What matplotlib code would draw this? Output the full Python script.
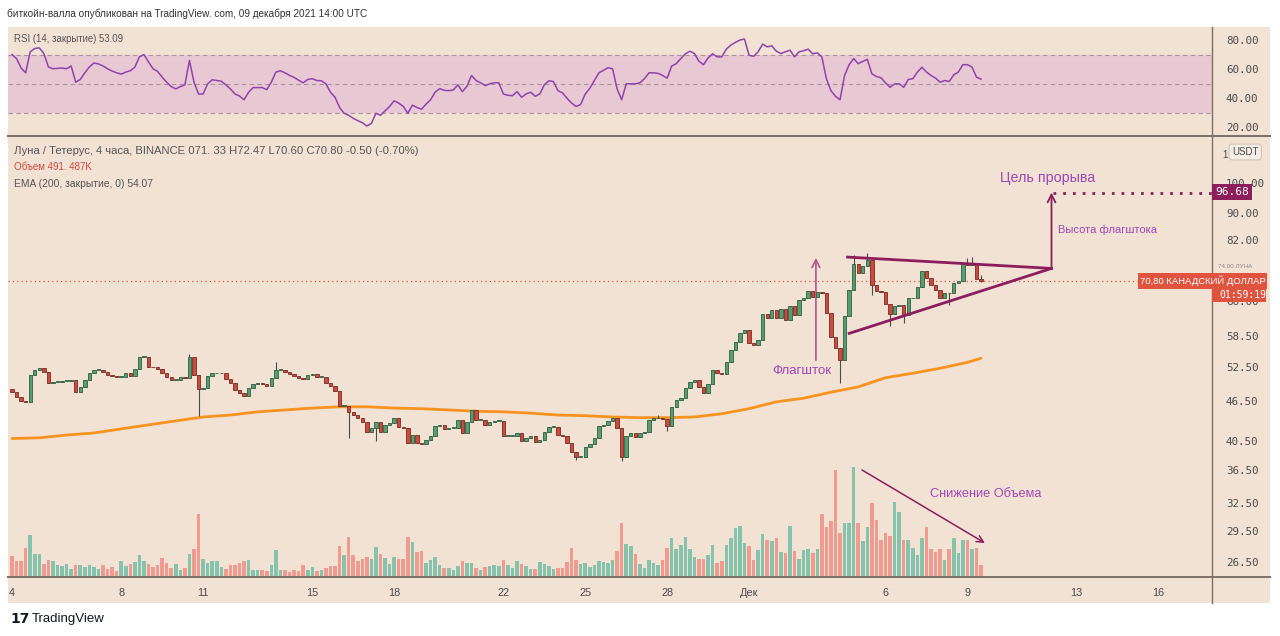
import matplotlib
matplotlib.use("Agg")
import matplotlib.pyplot as plt
from matplotlib.patches import Rectangle
from matplotlib.lines import Line2D
from matplotlib.ticker import FixedLocator, NullLocator, FuncFormatter
import numpy as np

plt.rcParams['font.family'] = ['Liberation Sans', 'DejaVu Sans']

# ---- data (4h candles from 4 Nov, 6 per day) ----
first_open = 48.5
closes = [
    48.0, 47.2, 46.5, 46.4, 51.0, 51.9,   # Nov 4
    52.2, 51.5, 49.6, 49.8, 49.8, 50.0,
    50.0, 50.1, 48.0, 48.9, 50.1, 51.3,
    51.9, 51.9, 51.5, 51.0, 50.8, 50.6,
    50.6, 51.3, 50.8, 52.0, 54.3, 54.3,   # Nov 8
    52.5, 52.4, 52.0, 51.3, 50.6, 50.1,
    50.1, 50.6, 50.5, 54.3, 51.0, 48.5,
    48.7, 50.8, 51.3, 51.3, 51.3, 50.3,   # Nov 11
    49.6, 48.4, 47.8, 47.4, 48.7, 49.4,
    49.6, 49.4, 49.1, 50.5, 51.9, 51.9,
    51.5, 51.1, 50.8, 50.5, 50.3, 51.0,
    51.1, 50.6, 50.6, 49.6, 49.1, 48.2,   # Nov 15
    45.7, 45.7, 44.8, 44.3, 43.8, 43.3,
    41.8, 42.3, 43.3, 41.8, 42.8, 43.1,
    43.8, 42.5, 42.3, 40.2, 41.3, 40.2,   # Nov 18
    40.0, 40.6, 41.2, 42.6, 42.8, 42.2,
    42.3, 42.3, 43.5, 41.6, 43.2, 45.1,
    43.5, 43.5, 42.8, 43.2, 43.4, 43.4,
    41.2, 41.2, 41.2, 41.6, 40.5, 40.9,   # Nov 22
    41.2, 40.3, 40.6, 41.7, 42.5, 42.5,
    41.3, 41.2, 40.2, 38.9, 38.2, 38.2,
    39.6, 40.0, 40.9, 42.6, 42.8, 43.4,   # Nov 25
    43.8, 42.3, 38.2, 41.2, 41.6, 41.0,
    41.6, 41.7, 43.5, 43.8, 43.8, 43.7,
    42.6, 45.6, 46.7, 47.0, 48.7, 49.8,   # Nov 28
    50.1, 48.9, 47.9, 49.4, 51.9, 51.3,
    51.2, 53.4, 55.7, 57.3, 59.0, 59.6,
    57.1, 56.7, 57.7, 63.2, 62.2, 64.1,   # Dec 1
    62.2, 64.2, 61.8, 65.0, 62.9, 66.3,
    66.7, 68.4, 67.1, 68.1, 68.0, 63.3,
    58.2, 56.0, 53.8, 62.6, 68.8, 75.3,   # Dec 4
    72.9, 74.6, 76.3, 69.9, 68.5, 68.3,
    65.4, 63.2, 64.9, 65.1, 62.9, 66.7,   # Dec 6
    66.9, 69.5, 73.5, 71.6, 69.9, 68.7,
    66.9, 68.0, 67.9, 70.4, 70.8, 75.3,
    75.0, 75.4, 71.33, 70.80,             # Dec 9
]
highs = {39: 54.8, 58: 53.4, 142: 44.3, 185: 77.6, 188: 78.3, 210: 76.8, 211: 77.2, 213: 72.47}
lows = {41: 44.1, 74: 40.9, 80: 40.5, 124: 37.9, 134: 37.7, 144: 41.9, 182: 49.6,
        189: 67.5, 193: 60.6, 196: 61.2, 206: 65.2, 213: 70.60}

volumes = [  # thousands
    825, 640, 640, 1170, 1700, 930,
    905, 530, 665, 640, 490, 425,
    530, 330, 490, 465, 400, 465,
    400, 330, 465, 330, 400, 225,
    625, 425, 530, 600, 890, 640,
    530, 400, 490, 760, 560, 360,
    505, 265, 370, 930, 1105, 2530,
    730, 560, 625, 625, 400, 330,
    465, 465, 560, 625, 665, 295,
    265, 265, 225, 490, 1065, 295,
    295, 200, 265, 240, 490, 265,
    400, 225, 265, 360, 425, 425,
    1250, 865, 1600, 865, 625, 705,
    800, 730, 1200, 930, 770, 530,
    800, 730, 730, 1620, 1400, 1000,
    1025, 560, 690, 800, 465, 370,
    370, 265, 425, 640, 560, 560,
    360, 265, 400, 425, 490, 425,
    690, 465, 370, 640, 505, 425,
    330, 305, 600, 505, 425, 330,
    360, 370, 600, 1170, 690, 505,
    560, 400, 465, 640, 585, 570,
    690, 1040, 2155, 1305, 1225, 905,
    530, 360, 665, 560, 465, 665,
    1155, 1570, 1130, 1265, 1620, 1105,
    800, 705, 705, 865, 1290, 570,
    625, 1265, 1570, 1970, 2060, 1370,
    1225, 665, 1090, 1730, 1465, 1435,
    1570, 1000, 960, 2035, 1025, 705,
    1090, 1130, 960, 1105, 2530, 2000,
    2235, 4300, 1755, 2155, 2170, 4415,
    2155, 1435, 2020, 2965, 2300, 1490,
    1770, 1635, 2990, 2595, 1490, 1465,
    1170, 890, 1570, 2000, 1130, 1000,
    1130, 665, 1130, 1570, 960, 1465,
    1490, 1105, 1170, 491.5,
]

rsi = [
    70.0, 67.2, 60.7, 57.4, 71.9, 74.2,
    74.6, 70.7, 61.4, 60.2, 60.5, 60.7,
    60.2, 62.1, 50.9, 52.8, 57.4, 61.4,
    64.2, 63.5, 62.1, 60.2, 58.6, 57.4,
    56.5, 57.9, 58.8, 61.4, 68.4, 70.0,
    64.9, 60.2, 58.4, 54.4, 50.9, 47.9,
    46.3, 47.9, 49.1, 66.0, 50.9, 42.8,
    42.8, 49.8, 52.6, 52.1, 51.6, 49.1,
    46.3, 42.8, 41.4, 38.8, 44.0, 47.2,
    47.2, 47.2, 45.8, 50.9, 57.9, 58.8,
    57.4, 55.6, 54.2, 52.3, 50.5, 52.8,
    53.3, 52.1, 51.9, 49.8, 44.0, 40.5,
    33.5, 29.5, 28.1, 26.0, 24.4, 23.0,
    20.7, 22.5, 29.5, 28.1, 31.2, 34.2,
    38.1, 36.5, 34.2, 29.5, 35.1, 33.5,
    32.3, 35.8, 38.8, 44.0, 46.5, 45.3,
    45.1, 45.6, 49.1, 44.4, 48.1, 55.6,
    52.1, 50.5, 48.6, 49.8, 50.5, 50.5,
    42.8, 41.9, 41.6, 44.4, 40.5, 42.8,
    44.0, 41.2, 42.8, 49.1, 51.9, 51.4,
    45.1, 43.5, 39.8, 36.5, 34.2, 35.6,
    42.8, 46.7, 52.1, 57.4, 59.1, 60.9,
    60.2, 46.3, 38.8, 49.8, 49.8, 49.8,
    50.5, 53.3, 57.4, 57.4, 57.0, 55.6,
    53.7, 62.1, 63.7, 67.2, 70.5, 72.3,
    70.7, 65.3, 63.0, 67.7, 70.5, 68.4,
    68.4, 73.7, 76.5, 78.4, 80.0, 80.7,
    69.5, 68.8, 71.9, 77.2, 75.3, 76.0,
    72.3, 70.7, 71.9, 73.0, 68.4, 71.9,
    72.6, 73.7, 70.5, 71.2, 68.4, 53.3,
    45.1, 41.2, 38.8, 55.6, 63.0, 67.2,
    63.7, 65.3, 66.7, 56.7, 54.9, 54.0,
    50.5, 47.4, 49.8, 49.8, 47.4, 52.8,
    53.3, 57.9, 61.2, 57.9, 55.6, 53.7,
    50.9, 52.1, 51.4, 56.0, 57.9, 63.0,
    63.0, 61.4, 54.4, 53.09,
]

ema_days = list(range(36)) + [35.5]
ema = [40.8, 40.9, 41.3, 41.6, 42.2, 42.8, 43.4, 44.0, 44.3, 44.8,
       45.1, 45.4, 45.6, 45.6, 45.4, 45.3, 45.1, 44.9, 44.8, 44.6,
       44.3, 44.2, 44.0, 43.9, 43.9, 44.0, 44.5, 45.3, 46.4, 47.0,
       48.0, 48.9, 50.5, 51.3, 52.2, 53.3, 54.07]

day_ticks = [0, 4, 7, 11, 14, 18, 21, 24, 27, 32, 35, 39, 42]
day_labels = ['4', '8', '11', '15', '18', '22', '25', '28', 'Дек', '6', '9', '13', '16']
price_ticks = [26.5, 29.5, 32.5, 36.5, 40.5, 46.5, 52.5, 58.5, 66.0, 82.0, 90.0, 100.0]
rsi_ticks = [20, 40, 60, 80]
last_price = 70.80
target = 96.68

# ---- colours ----
BG = '#F2E2D4'
BAND = '#E8C8D3'
UP, UP_EDGE = '#559E72', '#2E5E40'
DN, DN_EDGE = '#CB4A3E', '#7A2A22'
VUP, VDN = '#86C3AD', '#F19A8F'
PURPLE = '#A046B5'
MAROON = '#8B1E5B'
TXT = '#4A4A4A'

W, H = 1280, 636
def fx(x):
    return x / W
def fy(y):
    return 1 - y / H

fig = plt.figure(figsize=(12.8, 6.36), dpi=100, facecolor='white')
fig.patches.append(Rectangle((fx(8), fy(603)), (1270 - 8) / W, (603 - 27) / H,
                             transform=fig.transFigure, facecolor=BG, edgecolor='none', zorder=-5))

xlim = (-0.147, 43.96)
n = len(closes)
xs = np.arange(n) / 6.0
opens = [first_open] + closes[:-1]

# ---- RSI pane ----
ax_rsi = fig.add_axes([fx(8), fy(135), 1204 / W, 108 / H])
ax_rsi.set_zorder(1)
ax_rsi.set_facecolor('none')
ax_rsi.set_xlim(*xlim)
ax_rsi.set_ylim(14.5, 89)
ax_rsi.axhspan(30, 70, color=BAND, zorder=0, lw=0)
for lev in (70, 50, 30):
    ax_rsi.axhline(lev, color='#A8949A', lw=0.8, ls=(0, (4, 3)), zorder=1)
ax_rsi.plot(xs, rsi, color='#8E44AD', lw=1.1, zorder=3)
for s in ax_rsi.spines.values():
    s.set_visible(False)
ax_rsi.set_xticks([])
ax_rsi.yaxis.tick_right()
ax_rsi.yaxis.set_major_locator(FixedLocator(rsi_ticks))
ax_rsi.yaxis.set_major_formatter(FuncFormatter(lambda v, p: '%.2f' % v))
ax_rsi.tick_params(axis='y', length=0, pad=10, labelsize=7.8, labelcolor=TXT)
for lb in ax_rsi.get_yticklabels():
    lb.set_fontfamily('DejaVu Sans Mono')

# ---- volume pane (under the price pane) ----
ax_vol = fig.add_axes([fx(8), fy(577), 1204 / W, 440 / H])
ax_vol.set_zorder(1)
ax_vol.set_facecolor('none')
vcol = [VUP if c >= o else VDN for o, c in zip(opens, closes)]
ax_vol.bar(xs, volumes, width=0.13, color=vcol, lw=0)
ax_vol.set_ylim(0, 17600)
ax_vol.set_xlim(*xlim)
ax_vol.axis('off')

# ---- price pane ----
ax = fig.add_axes([fx(8), fy(577), 1204 / W, 440 / H])
ax.set_facecolor('none')
ax.set_zorder(2)
ax.set_yscale('log')
ax.set_xlim(*xlim)
ax.set_ylim(25.1, 117.5)

ax.plot(ema_days, ema, color='#F7931E', lw=2, zorder=2, solid_capstyle='round')

for i in range(n):
    o, c = opens[i], closes[i]
    hi = highs.get(i, max(o, c))
    lo = lows.get(i, min(o, c))
    if hi > lo:
        ax.vlines(xs[i], lo, hi, color='#4A4A4A', lw=0.8, zorder=3)
    bot = min(o, c)
    hgt = max(abs(c - o), 0.12)
    up = c >= o
    ax.bar(xs[i], hgt, bottom=bot, width=0.125,
           color=UP if up else DN, edgecolor=UP_EDGE if up else DN_EDGE, lw=0.6, zorder=4)

ax.axhline(last_price, color='#E0533F', lw=0.9, ls=(0, (1, 2.5)), zorder=1)

# pennant and target
apex = (38.08, 74.1)
ax.plot([30.61, apex[0]], [77.1, apex[1]], color=MAROON, lw=2, zorder=5)
ax.plot([30.67, apex[0]], [59.0, apex[1]], color=MAROON, lw=2, zorder=5)
ax.annotate('', xy=(apex[0], target), xytext=apex,
            arrowprops=dict(arrowstyle='->', color=MAROON, lw=1.3, mutation_scale=14, shrinkA=0, shrinkB=0))
ax.plot([apex[0] + 0.05, xlim[1]], [target, target], color=MAROON, lw=2, ls=(0, (1, 2.5)), zorder=5)
ax.annotate('', xy=(29.45, 76.9), xytext=(29.45, 53.7),
            arrowprops=dict(arrowstyle='->', color='#B0578F', lw=1.2, mutation_scale=14, shrinkA=0, shrinkB=0))
ax.text(28.94, 51.7, 'Флагшток', color=PURPLE, fontsize=9.5, ha='center', va='center')
ax.text(38.32, 84.8, 'Высота флагштока', color=PURPLE, fontsize=8, ha='left', va='center')
ax.text(36.19, 101.8, 'Цель прорыва', color=PURPLE, fontsize=10.3, ha='left', va='center')

ax_vol.annotate('', xy=(35.64, 1360), xytext=(31.14, 4280),
                arrowprops=dict(arrowstyle='->', color=MAROON, lw=1.1, mutation_scale=12, shrinkA=0, shrinkB=0))
ax_vol.text(33.63, 3320, 'Снижение Объема', color=PURPLE, fontsize=9.2, ha='left', va='center')

for k, s in ax.spines.items():
    s.set_visible(False)
ax.yaxis.tick_right()
ax.yaxis.set_major_locator(FixedLocator(price_ticks))
ax.yaxis.set_minor_locator(NullLocator())
ax.yaxis.set_major_formatter(FuncFormatter(lambda v, p: '%.2f' % v))
ax.tick_params(axis='y', which='both', length=0, pad=10, labelsize=7.8, labelcolor=TXT)
for lb in ax.get_yticklabels():
    lb.set_fontfamily('DejaVu Sans Mono')
ax.set_xticks(day_ticks)
ax.set_xticklabels(day_labels)
ax.tick_params(axis='x', length=0, pad=8, labelsize=7.8, labelcolor=TXT)

# ---- frame lines ----
for (x0, y0, x1, y1, lw) in [(8, 136, 1270, 136, 1.4), (8, 577, 1270, 577, 1.4), (1212, 27, 1212, 603, 1.0)]:
    fig.add_artist(Line2D([fx(x0), fx(x1)], [fy(y0), fy(y1)], color='#7A7068', lw=lw, zorder=6))

# ---- price scale labels ----
fig.patches.append(Rectangle((fx(1212), fy(200)), 40 / W, 16 / H, transform=fig.transFigure,
                             facecolor=MAROON, edgecolor='none', zorder=7))
fig.text(fx(1215), fy(192), '%.2f' % target, color='white', fontsize=8, family='DejaVu Sans Mono',
         va='center', ha='left', zorder=8)
fig.patches.append(Rectangle((fx(1138), fy(289)), 129 / W, 16 / H, transform=fig.transFigure,
                             facecolor='#E0533F', edgecolor='none', zorder=7))
fig.patches.append(Rectangle((fx(1212), fy(302)), 54 / W, 14 / H, transform=fig.transFigure,
                             facecolor='#E0533F', edgecolor='none', zorder=7))
fig.text(fx(1140), fy(281), '70,80 КАНАДСКИЙ ДОЛЛАР', color='white', fontsize=6.8,
         family=['Liberation Sans Narrow', 'Liberation Sans'], va='center', ha='left', zorder=8)
fig.text(fx(1219), fy(295.5), '01:59:19', color='white', fontsize=7, family='DejaVu Sans Mono',
         va='center', ha='left', zorder=8)
fig.text(fx(1218), fy(267), '74.00 ЛУНА', color='#8A8A8A', fontsize=4.5, va='center', ha='left', zorder=8)
fig.text(fx(1222), fy(155), '1', color=TXT, fontsize=7, va='center', ha='left')
fig.text(fx(1232), fy(152), 'USDT', color=TXT, fontsize=7, va='center', ha='left',
         bbox=dict(boxstyle='round,pad=0.3', fc='#F6EEE6', ec='#CDBFB3', lw=0.7))

# ---- legends / headers ----
fig.text(fx(7), fy(14), 'биткойн-валла опубликован на TradingView. com, 09 декабря 2021 14:00 UTC',
         color='#333333', fontsize=7.2, va='center', ha='left')
fig.text(fx(14), fy(39), 'RSI (14, закрытие) 53.09', color='#555555', fontsize=6.9, va='center', ha='left',
         zorder=9)
fig.text(fx(14), fy(151), 'Луна / Тетерус, 4 часа, BINANCE 071. 33 H72.47 L70.60 C70.80 -0.50 (-0.70%)',
         color='#555555', fontsize=8.1, va='center', ha='left')
fig.text(fx(14), fy(167), 'Объем 491. 487K', color='#D9453B', fontsize=7, va='center', ha='left')
fig.text(fx(14), fy(184), 'EMA (200, закрытие, 0) 54.07', color='#555555', fontsize=7.4, va='center', ha='left')

# ---- footer ----
fig.text(fx(10), fy(619), '17', color='#131722', fontsize=10, fontweight='heavy', family='DejaVu Sans',
         va='center', ha='left')
fig.text(fx(32), fy(619), 'TradingView', color='#131722', fontsize=9.5, va='center', ha='left')

fig.savefig('out.png', dpi=100, facecolor='white')
